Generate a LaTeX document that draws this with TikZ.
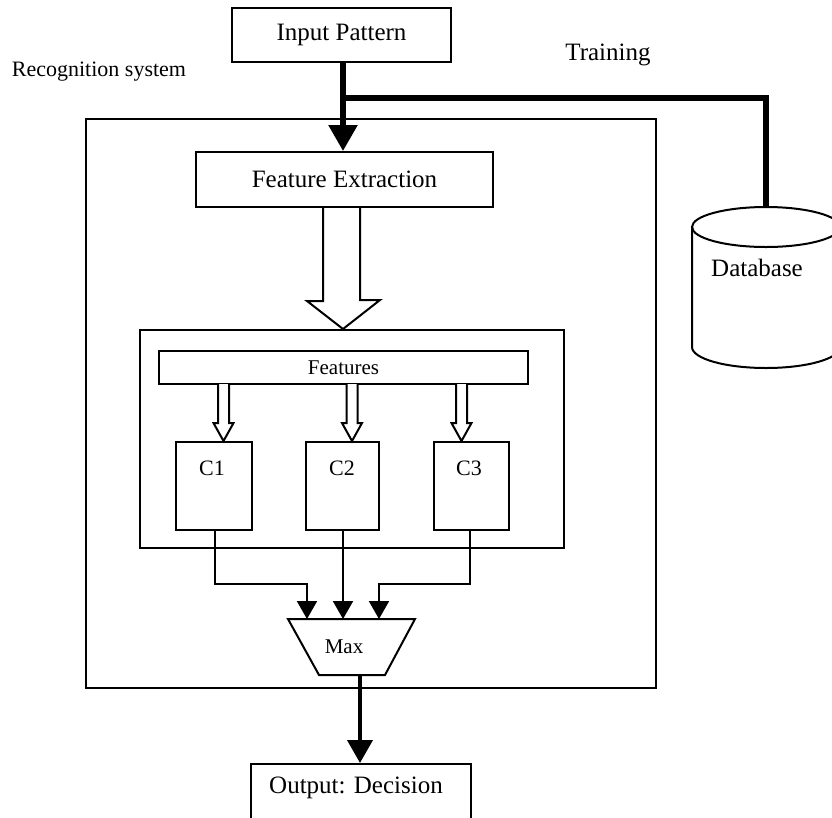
\documentclass[tikz,border=0pt]{standalone}
\usepackage{fontspec}
\setmainfont{Liberation Serif}
\usetikzlibrary{arrows.meta,calc}
\tikzset{
  thin line/.style={line width=2pt, draw=black},
  thick line/.style={line width=5.5pt, draw=black},
  boxnode/.style={draw=black, line width=2pt, inner sep=0pt, fill=white},
  big/.style={font=\fontsize{25}{30}\selectfont},
  mid/.style={font=\fontsize{22}{26}\selectfont},
  small/.style={font=\fontsize{21}{25}\selectfont},
  bigtip/.style={-{Triangle[length=26pt,width=28pt]}},
  smalltip/.style={-{Triangle[length=18pt,width=20pt]}},
}
\begin{document}
\begin{tikzpicture}[x=1pt,y=-1pt]
\useasboundingbox (0,0) rectangle (832,817);
\clip (0,0) rectangle (832,817);
\fill[white] (0,0) rectangle (832,817);

% labels
\node[mid] (rs) at (99,72) {Recognition system};
\node[big] (tr) at (608,55) {Training};

% outer recognition system box and inner box
\node[boxnode, fill=none, minimum width=570pt, minimum height=569pt] (outer) at (371,403.5) {};
\node[boxnode, fill=none, minimum width=424pt, minimum height=218pt] (inner) at (352,439) {};

% input
\node[boxnode, minimum width=219pt, minimum height=54pt, big] (inp) at (341.5,35) {Input Pattern};
% feature extraction
\node[boxnode, minimum width=297pt, minimum height=55pt, big] (fe) at (344.5,179.5) {Feature Extraction};

% database cylinder
\coordinate (dbtop) at (766,207);
\draw[thin line, fill=white] (692,227) -- (692,347) arc[start angle=180, end angle=360, x radius=74, y radius=-21] -- (840,227);
\draw[thin line] (766,227) ellipse [x radius=74, y radius=20];
\node[big] (db) at (757,268) {Database};

% input -> feature extraction, training branch
\coordinate (split) at (343,98);
\draw[thick line, bigtip] (inp.south -| split) -- (fe.north -| split);
\draw[thick line, line join=miter] (split) -- (split -| dbtop) -- (dbtop);

% big hollow arrow
\draw[thin line, fill=white, line join=miter]
  ($(fe.south)+(-21.5,0)$) -- ++(0,93) -- ++(-16,0) -- (inner.north -| 343,0) -- ++(37,-29) -- ++(-20,0) -- ($(fe.south)+(15.5,0)$);

% features bar
\node[boxnode, minimum width=369pt, minimum height=33pt, small] (feat) at (343.5,367.5) {Features};

% classifier boxes
\node[boxnode, minimum width=76pt, minimum height=88pt] (c1) at (214,486) {};
\node[boxnode, minimum width=73pt, minimum height=88pt] (c2) at (342.5,486) {};
\node[boxnode, minimum width=75pt, minimum height=88pt] (c3) at (471.5,486) {};
\node[mid] (c1t) at (212,468) {C1};
\node[mid] (c2t) at (342,468) {C2};
\node[mid] (c3t) at (469,468) {C3};

% small hollow arrows
\foreach \x/\c in {223.5/c1,352/c2,461.5/c3}{
  \draw[thin line, fill=white, line join=miter]
    (\x-5.5,384) -- (\x-5.5,423) -- (\x-10,423) -- (\c.north -| \x,0) -- (\x+10,423) -- (\x+5.5,423) -- (\x+5.5,384);
}

% max trapezium
\coordinate (mtl) at (288,619);
\coordinate (mtr) at (415,619);
\coordinate (mbr) at (385,675);
\coordinate (mbl) at (319,675);
\draw[thin line, fill=white, line join=miter] (mtl) -- (mtr) -- (mbr) -- (mbl) -- cycle;
\node[small] (max) at (344,647) {Max};

% classifier -> max
\draw[thin line, smalltip] (c1.south -| 215,0) |- (307,584) -- (307,619);
\draw[thin line, smalltip] (c2.south -| 343,0) -- (343,619);
\draw[thin line, smalltip] (c3.south -| 470,0) |- (379,584) -- (379,619);

% output
\node[boxnode, minimum width=220pt, minimum height=70pt] (out) at (361,799) {};
\node[big] (outt) at (356,788) {Output: Decision};
\draw[thick line, line width=4pt, -{Triangle[length=23pt,width=25pt]}] (360,675) -- (out.north -| 360,0);
\end{tikzpicture}
\end{document}
